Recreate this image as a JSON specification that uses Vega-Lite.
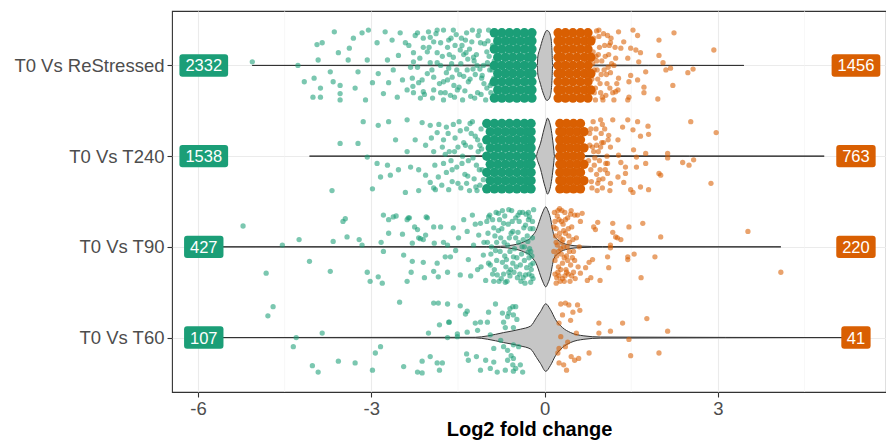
{
"$schema":"https://vega.github.io/schema/vega-lite/v6.json",
"width":714,"height":381,
"autosize":{"type":"none"},
"padding":{"left":172,"top":11,"right":0,"bottom":49},
"background":"white",
"config":{
"view":{"stroke":"#333333","strokeWidth":1.1},
"axis":{"labelFont":"Liberation Sans","titleFont":"Liberation Sans","labelFontSize":18.5,"labelColor":"#4D4D4D","tickColor":"#333333","tickSize":5,"tickWidth":1.1,"gridColor":"#EBEBEB","gridWidth":1.1,"domain":false,"labelPadding":3}
},
"datasets":{
"minor":[{"v":-4.5},{"v":-1.5},{"v":1.5},{"v":4.5}],
"vio":[
{"c":4,"x":-5.06,"lo":4,"hi":4},{"c":4,"x":-0.125,"lo":3.994,"hi":4.006},{"c":4,"x":-0.12,"lo":3.923,"hi":4.077},{"c":4,"x":-0.11,"lo":3.879,"hi":4.121},{"c":4,"x":-0.09,"lo":3.835,"hi":4.165},{"c":4,"x":-0.07,"lo":3.791,"hi":4.209},{"c":4,"x":-0.04,"lo":3.724,"hi":4.276},{"c":4,"x":-0.01,"lo":3.669,"hi":4.331},{"c":4,"x":0.02,"lo":3.625,"hi":4.375},{"c":4,"x":0.04,"lo":3.614,"hi":4.386},{"c":4,"x":0.07,"lo":3.625,"hi":4.375},{"c":4,"x":0.1,"lo":3.669,"hi":4.331},{"c":4,"x":0.12,"lo":3.757,"hi":4.243},{"c":4,"x":0.13,"lo":3.868,"hi":4.132},{"c":4,"x":0.135,"lo":3.956,"hi":4.044},{"c":4,"x":0.14,"lo":3.994,"hi":4.006},{"c":4,"x":3.45,"lo":4,"hi":4},
{"c":3,"x":-4.07,"lo":3,"hi":3},{"c":3,"x":-0.14,"lo":2.994,"hi":3.006},{"c":3,"x":-0.13,"lo":2.967,"hi":3.033},{"c":3,"x":-0.1,"lo":2.912,"hi":3.088},{"c":3,"x":-0.07,"lo":2.857,"hi":3.143},{"c":3,"x":-0.04,"lo":2.78,"hi":3.22},{"c":3,"x":-0.01,"lo":2.702,"hi":3.298},{"c":3,"x":0.02,"lo":2.636,"hi":3.364},{"c":3,"x":0.05,"lo":2.581,"hi":3.419},{"c":3,"x":0.08,"lo":2.614,"hi":3.386},{"c":3,"x":0.11,"lo":2.691,"hi":3.309},{"c":3,"x":0.14,"lo":2.824,"hi":3.176},{"c":3,"x":0.16,"lo":2.934,"hi":3.066},{"c":3,"x":0.17,"lo":2.994,"hi":3.006},{"c":3,"x":4.84,"lo":3,"hi":3},
{"c":2,"x":-5.9,"lo":2,"hi":2},{"c":2,"x":-1.0,"lo":1.997,"hi":2.003},{"c":2,"x":-0.76,"lo":1.994,"hi":2.006},{"c":2,"x":-0.53,"lo":1.978,"hi":2.022},{"c":2,"x":-0.36,"lo":1.945,"hi":2.055},{"c":2,"x":-0.24,"lo":1.901,"hi":2.099},{"c":2,"x":-0.2,"lo":1.868,"hi":2.132},{"c":2,"x":-0.16,"lo":1.835,"hi":2.165},{"c":2,"x":-0.11,"lo":1.757,"hi":2.243},{"c":2,"x":-0.07,"lo":1.68,"hi":2.32},{"c":2,"x":-0.03,"lo":1.614,"hi":2.386},{"c":2,"x":0.02,"lo":1.559,"hi":2.441},{"c":2,"x":0.06,"lo":1.603,"hi":2.397},{"c":2,"x":0.1,"lo":1.68,"hi":2.32},{"c":2,"x":0.13,"lo":1.78,"hi":2.22},{"c":2,"x":0.16,"lo":1.868,"hi":2.132},{"c":2,"x":0.25,"lo":1.934,"hi":2.066},{"c":2,"x":0.4,"lo":1.975,"hi":2.025},{"c":2,"x":0.62,"lo":1.992,"hi":2.008},{"c":2,"x":1.0,"lo":1.997,"hi":2.003},{"c":2,"x":4.09,"lo":2,"hi":2},
{"c":1,"x":-5.9,"lo":1,"hi":1},{"c":1,"x":-1.2,"lo":0.997,"hi":1.003},{"c":1,"x":-0.99,"lo":0.982,"hi":1.018},{"c":1,"x":-0.71,"lo":0.945,"hi":1.055},{"c":1,"x":-0.42,"lo":0.908,"hi":1.092},{"c":1,"x":-0.24,"lo":0.872,"hi":1.128},{"c":1,"x":-0.14,"lo":0.78,"hi":1.22},{"c":1,"x":-0.07,"lo":0.713,"hi":1.287},{"c":1,"x":0.02,"lo":0.628,"hi":1.372},{"c":1,"x":0.1,"lo":0.691,"hi":1.309},{"c":1,"x":0.19,"lo":0.802,"hi":1.198},{"c":1,"x":0.31,"lo":0.89,"hi":1.11},{"c":1,"x":0.45,"lo":0.945,"hi":1.055},{"c":1,"x":0.68,"lo":0.981,"hi":1.019},{"c":1,"x":0.97,"lo":0.994,"hi":1.006},{"c":1,"x":5.3,"lo":1,"hi":1}
],
"pts":[
{"x":-5.06,"y":4.04},{"x":-4.27,"y":4.0},{"x":-3.64,"y":4.37},{"x":-3.94,"y":4.23},{"x":-3.85,"y":4.25},{"x":-3.92,"y":4.06},{"x":-4.16,"y":3.82},{"x":-3.99,"y":3.86},{"x":-3.88,"y":3.75},{"x":-4.01,"y":3.65},{"x":-3.88,"y":3.65},{"x":-3.71,"y":3.93},{"x":-3.66,"y":3.82},{"x":-3.57,"y":4.14},{"x":-3.54,"y":3.78},{"x":-3.54,"y":3.69},{"x":-3.54,"y":3.62},{"x":-3.38,"y":4.19},{"x":-3.4,"y":4.06},{"x":-3.31,"y":4.3},{"x":-3.28,"y":3.75},{"x":-3.23,"y":3.93},{"x":-3.16,"y":4.36},{"x":-3.1,"y":3.62},{"x":-3.07,"y":4.06},{"x":-3.05,"y":4.39},{"x":-2.98,"y":3.81},{"x":-2.9,"y":4.25},{"x":-2.88,"y":3.91},{"x":-2.79,"y":3.69},{"x":-2.76,"y":4.37},{"x":-2.72,"y":4.06},{"x":-2.7,"y":3.81},{"x":-2.64,"y":4.28},{"x":-2.62,"y":3.95},{"x":-2.55,"y":3.65},{"x":-2.53,"y":4.11},{"x":-2.5,"y":4.36},{"x":-2.46,"y":3.84},{"x":-2.41,"y":4.25},{"x":-2.38,"y":3.73},{"x":-2.32,"y":3.98},{"x":-2.27,"y":4.14},{"x":-2.2,"y":4.36},{"x":-2.18,"y":3.81},{"x":-2.15,"y":3.64},{"x":-2.1,"y":4.2},{"x":-2.03,"y":3.91},{"x":-1.98,"y":4.31},{"x":-1.92,"y":3.73},{"x":-1.86,"y":4.03},{"x":-1.8,"y":4.25},{"x":-1.75,"y":3.62},{"x":-1.68,"y":3.84},
{"x":-2.24,"y":4.33},{"x":-2.1,"y":4.3},{"x":-2.01,"y":4.37},{"x":-1.86,"y":4.39},{"x":-1.75,"y":4.39},{"x":-1.58,"y":4.39},{"x":-1.92,"y":4.26},{"x":-2.27,"y":4.04},{"x":-2.03,"y":4.15},{"x":-1.86,"y":4.14},{"x":-1.68,"y":4.2},{"x":-1.58,"y":4.09},{"x":-2.2,"y":3.98},{"x":-1.98,"y":4.03},{"x":-1.8,"y":4.0},{"x":-1.66,"y":3.97},{"x":-2.29,"y":3.86},{"x":-2.12,"y":3.84},{"x":-1.92,"y":3.87},{"x":-1.75,"y":3.82},{"x":-1.6,"y":3.87},{"x":-2.27,"y":3.7},{"x":-2.1,"y":3.71},{"x":-1.94,"y":3.64},{"x":-1.8,"y":3.7},{"x":-1.63,"y":3.67},{"x":-1.51,"y":3.73},{"x":-1.46,"y":4.17},{"x":-1.37,"y":4.28},{"x":-1.34,"y":3.95},{"x":-1.32,"y":3.82},{"x":-1.42,"y":3.62},{"x":-1.25,"y":4.39},{"x":-1.23,"y":4.09},{"x":-1.16,"y":3.7},{"x":-1.11,"y":4.25},{"x":-1.08,"y":3.89},{"x":-1.02,"y":3.62},{"x":-0.99,"y":4.03},{"x":-0.97,"y":4.39},{"x":-0.94,"y":3.78},
{"x":-1.45,"y":4.02},{"x":-1.3,"y":4.18},{"x":-1.2,"y":3.9},{"x":-1.15,"y":4.33},{"x":-1.05,"y":3.8},{"x":-1.0,"y":4.15},{"x":-0.95,"y":3.95},{"x":-1.28,"y":3.66},{"x":-1.4,"y":3.88},{"x":-1.55,"y":4.22},{"x":-1.22,"y":4.05},{"x":-1.1,"y":3.68},{"x":-0.98,"y":4.27},{"x":-1.35,"y":4.36},{"x":-1.48,"y":3.76},{"x":-1.18,"y":4.12},{"x":-1.06,"y":4.0},{"x":-0.93,"y":3.7},{"x":-1.12,"y":3.96},{"x":-1.4,"y":4.12},{"x":-0.9,"y":4.22},{"x":-0.88,"y":3.86},{"x":-0.86,"y":4.35},{"x":-0.9,"y":3.64},{"x":-0.87,"y":4.05},{"x":-0.91,"y":3.95},{"x":-1.62,"y":4.3},{"x":-1.7,"y":3.92},{"x":-1.52,"y":3.95},{"x":-1.65,"y":4.12},{"x":-1.56,"y":3.65},{"x":-1.44,"y":4.3},
{"x":-2.35,"y":4.22},{"x":-2.28,"y":3.77},{"x":-2.16,"y":4.08},{"x":-2.08,"y":3.68},{"x":-2.0,"y":4.2},{"x":-1.95,"y":3.95},{"x":-1.88,"y":4.35},{"x":-1.82,"y":3.8},{"x":-1.77,"y":4.1},{"x":-1.72,"y":3.7},{"x":-1.66,"y":4.28},{"x":-1.61,"y":4.02},{"x":-1.57,"y":3.78},{"x":-1.53,"y":4.34},{"x":-1.47,"y":3.9},{"x":-1.43,"y":4.22},{"x":-1.38,"y":3.72},{"x":-1.33,"y":4.07},{"x":-1.29,"y":3.85},{"x":-1.26,"y":4.26},{"x":-1.21,"y":3.64},{"x":-1.17,"y":4.0},{"x":-1.13,"y":4.38},{"x":-1.09,"y":3.86},{"x":-1.04,"y":4.24},{"x":-1.0,"y":3.75},{"x":-0.96,"y":4.1},{"x":-0.92,"y":3.8},{"x":-1.24,"y":3.96},{"x":-1.36,"y":4.14},
{"x":0.94,"y":4.39},{"x":1.09,"y":4.33},{"x":1.28,"y":4.37},{"x":1.53,"y":4.39},{"x":1.61,"y":4.33},{"x":2.24,"y":4.36},{"x":1.98,"y":4.28},{"x":2.93,"y":4.17},{"x":1.14,"y":4.25},{"x":1.37,"y":4.26},{"x":1.49,"y":4.19},{"x":1.32,"y":4.19},{"x":1.58,"y":4.17},{"x":1.66,"y":4.14},{"x":1.98,"y":4.11},{"x":1.23,"y":4.08},{"x":1.44,"y":4.08},{"x":1.63,"y":4.04},{"x":2.05,"y":4.03},{"x":2.1,"y":3.95},{"x":2.18,"y":3.97},{"x":2.57,"y":3.96},{"x":2.48,"y":3.92},{"x":1.75,"y":3.93},{"x":1.49,"y":3.89},{"x":1.14,"y":3.92},{"x":1.28,"y":3.86},{"x":1.46,"y":3.82},{"x":1.61,"y":3.84},{"x":2.22,"y":3.78},{"x":1.72,"y":3.76},{"x":1.23,"y":3.71},{"x":1.27,"y":3.73},{"x":1.72,"y":3.7},{"x":1.96,"y":3.63},{"x":1.46,"y":3.65},{"x":1.44,"y":3.62},{"x":1.2,"y":3.62},{"x":1.06,"y":3.67},
{"x":0.85,"y":4.3},{"x":0.9,"y":4.05},{"x":0.88,"y":3.75},{"x":0.95,"y":4.2},{"x":0.98,"y":3.9},{"x":1.02,"y":4.35},{"x":1.05,"y":4.1},{"x":1.0,"y":3.65},{"x":0.92,"y":3.85},{"x":1.1,"y":3.98},{"x":1.12,"y":4.22},{"x":0.86,"y":3.95},{"x":0.9,"y":4.38},{"x":0.97,"y":3.7},{"x":1.08,"y":3.8},{"x":0.84,"y":4.15},{"x":1.15,"y":4.3},{"x":1.18,"y":3.7},{"x":0.93,"y":4.12},{"x":1.03,"y":3.95},{"x":0.88,"y":3.62},{"x":0.82,"y":3.85},{"x":0.83,"y":4.02},{"x":1.2,"y":4.0},
{"x":0.82,"y":4.25},{"x":0.86,"y":3.7},{"x":0.89,"y":4.1},{"x":0.91,"y":3.95},{"x":0.94,"y":4.32},{"x":0.96,"y":3.8},{"x":0.99,"y":4.05},{"x":1.01,"y":3.62},{"x":1.04,"y":4.22},{"x":1.07,"y":3.9},{"x":1.11,"y":4.12},{"x":1.13,"y":3.75},{"x":1.16,"y":4.02},{"x":1.22,"y":4.2},{"x":1.25,"y":3.8},
{"x":-3.14,"y":3.38},{"x":-2.88,"y":3.34},{"x":-2.7,"y":3.38},{"x":-2.38,"y":3.4},{"x":-2.12,"y":3.37},{"x":-1.98,"y":3.34},{"x":-3.54,"y":3.14},{"x":-3.23,"y":3.14},{"x":-3.07,"y":2.99},{"x":-2.9,"y":2.92},{"x":-2.72,"y":2.9},{"x":-2.84,"y":2.77},{"x":-2.67,"y":2.79},{"x":-2.53,"y":2.85},{"x":-2.58,"y":3.18},{"x":-2.24,"y":3.18},{"x":-2.06,"y":3.12},{"x":-2.38,"y":3.05},{"x":-2.32,"y":2.88},{"x":-2.18,"y":2.85},{"x":-2.06,"y":2.79},{"x":-1.98,"y":2.71},{"x":-1.92,"y":2.65},{"x":-1.89,"y":2.63},{"x":-3.68,"y":2.62},{"x":-2.98,"y":2.64},{"x":-2.41,"y":2.6},{"x":-2.18,"y":2.62},{"x":-1.86,"y":3.26},{"x":-1.92,"y":3.05},{"x":-1.77,"y":3.1},{"x":-1.75,"y":2.92},{"x":-1.84,"y":2.77},
{"x":-1.7,"y":3.32},{"x":-1.65,"y":3.05},{"x":-1.6,"y":2.72},{"x":-1.55,"y":3.2},{"x":-1.52,"y":2.88},{"x":-1.48,"y":3.38},{"x":-1.45,"y":2.65},{"x":-1.42,"y":3.0},{"x":-1.4,"y":3.15},{"x":-1.38,"y":2.8},{"x":-1.35,"y":3.3},{"x":-1.32,"y":2.95},{"x":-1.3,"y":2.62},{"x":-1.28,"y":3.1},{"x":-1.25,"y":3.38},{"x":-1.22,"y":2.75},{"x":-1.2,"y":3.22},{"x":-1.18,"y":2.9},{"x":-1.15,"y":3.05},{"x":-1.12,"y":2.68},{"x":-1.1,"y":3.3},{"x":-1.08,"y":2.85},{"x":-1.62,"y":2.95},{"x":-1.58,"y":3.35},{"x":-1.35,"y":2.7},{"x":-1.27,"y":3.25},{"x":-1.17,"y":2.62},{"x":-1.12,"y":3.12},{"x":-1.5,"y":3.1},{"x":-1.7,"y":2.82},{"x":-1.75,"y":3.18},{"x":-1.66,"y":2.63},
{"x":-1.96,"y":3.2},{"x":-1.9,"y":2.9},{"x":-1.83,"y":3.35},{"x":-1.78,"y":2.68},{"x":-1.72,"y":3.02},{"x":-1.67,"y":3.25},{"x":-1.6,"y":2.85},{"x":-1.56,"y":3.05},{"x":-1.5,"y":2.7},{"x":-1.46,"y":3.28},{"x":-1.43,"y":2.92},{"x":-1.37,"y":3.12},{"x":-1.33,"y":2.78},{"x":-1.29,"y":3.36},{"x":-1.24,"y":2.98},{"x":-1.19,"y":2.66},{"x":-1.16,"y":3.18},{"x":-1.13,"y":2.85},{"x":-1.09,"y":3.08},{"x":-1.06,"y":2.74},
{"x":0.97,"y":3.4},{"x":1.18,"y":3.4},{"x":1.44,"y":3.4},{"x":1.35,"y":3.32},{"x":1.61,"y":3.38},{"x":1.79,"y":3.33},{"x":1.8,"y":3.24},{"x":1.66,"y":3.22},{"x":1.53,"y":3.29},{"x":1.27,"y":3.18},{"x":1.11,"y":3.23},{"x":0.97,"y":3.1},{"x":1.14,"y":3.1},{"x":1.28,"y":3.01},{"x":1.54,"y":3.07},{"x":1.59,"y":2.99},{"x":1.75,"y":3.03},{"x":1.75,"y":2.92},{"x":2.13,"y":3.03},{"x":2.13,"y":2.98},{"x":2.39,"y":2.93},{"x":2.5,"y":2.9},{"x":2.58,"y":2.96},{"x":2.53,"y":3.38},{"x":2.97,"y":3.26},{"x":1.09,"y":2.92},{"x":1.32,"y":2.93},{"x":1.4,"y":2.88},{"x":1.59,"y":2.88},{"x":1.09,"y":2.81},{"x":1.27,"y":2.77},{"x":1.4,"y":2.81},{"x":1.14,"y":2.7},{"x":1.37,"y":2.71},{"x":1.49,"y":2.63},{"x":1.66,"y":2.66},{"x":1.8,"y":2.63},{"x":1.98,"y":2.81},{"x":2.01,"y":2.79},{"x":2.88,"y":2.7},{"x":0.94,"y":2.74},{"x":1.53,"y":2.6},
{"x":0.8,"y":3.3},{"x":0.85,"y":3.05},{"x":0.9,"y":2.8},{"x":0.82,"y":2.65},{"x":0.88,"y":3.2},{"x":0.95,"y":2.95},{"x":1.0,"y":3.35},{"x":0.78,"y":3.12},{"x":0.92,"y":2.7},{"x":1.02,"y":3.15},{"x":0.86,"y":2.9},{"x":1.05,"y":2.85},{"x":0.98,"y":3.25},{"x":0.84,"y":3.38},{"x":1.08,"y":3.0},{"x":0.9,"y":3.12},{"x":0.8,"y":2.85},{"x":1.0,"y":2.65},
{"x":0.76,"y":2.95},{"x":0.78,"y":3.25},{"x":0.81,"y":2.72},{"x":0.83,"y":3.1},{"x":0.87,"y":2.98},{"x":0.89,"y":3.3},{"x":0.91,"y":2.62},{"x":0.93,"y":3.05},{"x":0.96,"y":2.85},{"x":0.99,"y":3.15},{"x":1.01,"y":2.75},{"x":1.04,"y":3.3},{"x":1.06,"y":2.92},{"x":1.1,"y":3.18},{"x":1.13,"y":2.62},
{"x":-5.22,"y":2.23},{"x":-4.54,"y":2.02},{"x":-4.82,"y":1.71},{"x":-4.25,"y":2.08},{"x":-4.07,"y":1.84},{"x":-3.71,"y":1.73},{"x":-3.66,"y":2.06},{"x":-3.49,"y":2.28},{"x":-3.45,"y":2.31},{"x":-3.42,"y":2.11},{"x":-3.21,"y":2.08},{"x":-3.16,"y":2.02},{"x":-3.07,"y":1.72},{"x":-3.02,"y":1.62},{"x":-2.88,"y":1.67},{"x":-2.81,"y":1.6},{"x":-2.83,"y":2.05},{"x":-2.79,"y":1.95},{"x":-2.79,"y":2.35},{"x":-2.7,"y":2.3},{"x":-2.7,"y":2.15},{"x":-2.57,"y":2.34},{"x":-2.46,"y":2.14},{"x":-2.44,"y":1.91},{"x":-2.38,"y":2.3},{"x":-2.34,"y":2.32},{"x":-2.29,"y":2.04},{"x":-2.29,"y":1.84},{"x":-2.31,"y":1.72},{"x":-2.38,"y":1.62},{"x":-2.25,"y":2.22},{"x":-2.2,"y":2.19},{"x":-2.18,"y":2.1},{"x":-2.1,"y":2.08},{"x":-2.1,"y":1.83},{"x":-2.08,"y":1.66},{"x":-2.05,"y":2.33},{"x":-2.06,"y":2.13},{"x":-1.92,"y":2.22},{"x":-1.91,"y":2.04},{"x":-1.92,"y":1.73},{"x":-1.86,"y":1.82},{"x":-1.84,"y":1.67},{"x":-1.8,"y":2.22},{"x":-1.75,"y":2.05},{"x":-1.72,"y":1.89},{"x":-2.62,"y":2.33},{"x":-2.36,"y":2.32},{"x":-2.03,"y":2.32},{"x":-2.15,"y":2.09},{"x":-1.68,"y":2.02},{"x":-1.68,"y":1.72},
{"x":-1.63,"y":1.89},{"x":-1.58,"y":2.21},{"x":-1.54,"y":1.96},{"x":-1.49,"y":2.1},{"x":-1.46,"y":1.69},{"x":-1.4,"y":2.3},{"x":-1.34,"y":2.17},{"x":-1.32,"y":1.86},{"x":-1.25,"y":2.35},{"x":-1.23,"y":2.02},{"x":-1.16,"y":1.75},{"x":-1.14,"y":2.13},{"x":-1.11,"y":2.26},{"x":-1.06,"y":1.91},{"x":-1.02,"y":1.63},{"x":-0.99,"y":2.05},{"x":-0.97,"y":2.33},{"x":-0.94,"y":1.8},{"x":-0.88,"y":2.21},{"x":-0.85,"y":1.96},{"x":-0.82,"y":1.69},{"x":-0.8,"y":2.37},{"x":-0.76,"y":2.1},{"x":-0.73,"y":1.83},{"x":-0.71,"y":2.26},{"x":-0.68,"y":1.61},{"x":-0.64,"y":2.02},{"x":-0.62,"y":2.41},{"x":-0.59,"y":1.75},{"x":-0.55,"y":2.17},{"x":-0.54,"y":1.89},{"x":-0.5,"y":2.32},{"x":-0.47,"y":1.66},{"x":-0.45,"y":2.05},{"x":-0.42,"y":1.8},{"x":-0.38,"y":2.38},{"x":-0.36,"y":2.21},{"x":-0.33,"y":1.69},{"x":-0.29,"y":1.94},{"x":-0.28,"y":2.3},{"x":-0.24,"y":1.61},{"x":-0.21,"y":2.1},{"x":-0.19,"y":2.41},{"x":-0.24,"y":1.8},
{"x":-0.95,"y":2.35},{"x":-0.9,"y":1.7},{"x":-0.86,"y":2.12},{"x":-0.83,"y":1.85},{"x":-0.78,"y":2.3},{"x":-0.75,"y":1.65},{"x":-0.7,"y":2.05},{"x":-0.67,"y":1.78},{"x":-0.63,"y":2.25},{"x":-0.6,"y":1.95},{"x":-0.57,"y":2.4},{"x":-0.53,"y":1.72},{"x":-0.5,"y":2.1},{"x":-0.48,"y":1.88},{"x":-0.44,"y":2.28},{"x":-0.41,"y":1.62},{"x":-0.39,"y":2.0},{"x":-0.35,"y":1.85},{"x":-0.32,"y":2.36},{"x":-0.3,"y":2.12},{"x":-0.27,"y":1.7},{"x":-0.25,"y":2.2},{"x":-0.22,"y":1.9},{"x":-0.2,"y":1.65},{"x":-0.92,"y":2.0},{"x":-0.88,"y":1.62},{"x":-0.8,"y":2.18},{"x":-0.73,"y":2.4},{"x":-0.69,"y":1.9},{"x":-0.65,"y":1.62},{"x":-0.58,"y":2.15},{"x":-0.55,"y":1.82},{"x":-0.46,"y":2.35},{"x":-0.43,"y":1.7},{"x":-0.37,"y":2.08},{"x":-0.34,"y":1.6},{"x":-0.28,"y":2.38},{"x":-0.26,"y":1.98},{"x":-0.21,"y":2.28},{"x":-0.23,"y":1.75},{"x":-1.05,"y":2.05},{"x":-1.1,"y":1.78},{"x":-1.2,"y":2.25},{"x":-1.28,"y":1.68},{"x":-1.0,"y":2.28},{"x":-0.97,"y":1.82},{"x":-0.84,"y":2.38},{"x":-0.62,"y":1.72},
{"x":-0.98,"y":2.15},{"x":-0.93,"y":1.92},{"x":-0.9,"y":2.3},{"x":-0.87,"y":1.75},{"x":-0.83,"y":2.05},{"x":-0.79,"y":1.62},{"x":-0.77,"y":1.95},{"x":-0.74,"y":2.2},{"x":-0.71,"y":1.7},{"x":-0.69,"y":2.34},{"x":-0.66,"y":1.86},{"x":-0.61,"y":2.1},{"x":-0.6,"y":1.68},{"x":-0.56,"y":2.28},{"x":-0.52,"y":1.98},{"x":-0.49,"y":1.78},{"x":-0.46,"y":2.16},{"x":-0.43,"y":2.38},{"x":-0.4,"y":1.92},{"x":-0.37,"y":1.66},{"x":-0.33,"y":2.24},{"x":-0.31,"y":1.77},{"x":-0.29,"y":2.06},{"x":-0.26,"y":2.33},{"x":-0.24,"y":1.95},{"x":-0.22,"y":1.68},{"x":-0.2,"y":2.2},{"x":-0.2,"y":1.82},{"x":-0.27,"y":1.88},{"x":-0.35,"y":2.0},
{"x":0.92,"y":2.27},{"x":0.85,"y":2.22},{"x":0.88,"y":2.19},{"x":1.18,"y":2.26},{"x":1.18,"y":2.16},{"x":1.46,"y":2.22},{"x":1.7,"y":2.26},{"x":2.01,"y":2.11},{"x":1.26,"y":2.1},{"x":1.32,"y":2.08},{"x":1.23,"y":2.11},{"x":1.14,"y":2.02},{"x":1.14,"y":1.99},{"x":1.09,"y":1.89},{"x":1.44,"y":1.89},{"x":1.44,"y":1.86},{"x":1.55,"y":1.92},{"x":1.91,"y":1.89},{"x":0.77,"y":1.83},{"x":0.83,"y":1.86},{"x":0.71,"y":1.77},{"x":1.11,"y":1.77},{"x":1.67,"y":1.66},{"x":0.96,"y":1.63},{"x":0.8,"y":1.66},{"x":0.74,"y":1.63},{"x":3.52,"y":2.17},{"x":4.09,"y":1.72},{"x":0.62,"y":1.71},{"x":0.65,"y":2.37},{"x":0.57,"y":2.35},
{"x":0.17,"y":2.38},{"x":0.2,"y":2.2},{"x":0.22,"y":2.02},{"x":0.18,"y":1.85},{"x":0.21,"y":1.66},{"x":0.25,"y":2.3},{"x":0.27,"y":2.1},{"x":0.24,"y":1.95},{"x":0.28,"y":1.75},{"x":0.3,"y":2.4},{"x":0.32,"y":2.25},{"x":0.33,"y":2.0},{"x":0.31,"y":1.82},{"x":0.34,"y":1.62},{"x":0.36,"y":2.15},{"x":0.38,"y":1.9},{"x":0.4,"y":2.32},{"x":0.41,"y":1.7},{"x":0.43,"y":2.05},{"x":0.45,"y":1.8},{"x":0.47,"y":2.22},{"x":0.5,"y":1.95},{"x":0.52,"y":2.35},{"x":0.53,"y":1.65},{"x":0.19,"y":2.12},{"x":0.23,"y":1.72},{"x":0.26,"y":2.42},{"x":0.29,"y":1.92},{"x":0.35,"y":2.38},{"x":0.37,"y":1.75},{"x":0.42,"y":2.12},{"x":0.44,"y":1.62},{"x":0.48,"y":1.88},{"x":0.55,"y":2.1},{"x":0.2,"y":1.6},{"x":0.3,"y":2.05},{"x":0.27,"y":1.62},{"x":0.39,"y":2.0},{"x":0.46,"y":2.4},{"x":0.5,"y":1.72},{"x":0.18,"y":2.28},{"x":0.24,"y":1.78},{"x":0.33,"y":2.18},{"x":0.4,"y":1.85},{"x":0.6,"y":2.0},{"x":0.58,"y":1.78},{"x":0.62,"y":2.28},{"x":0.16,"y":1.95},{"x":0.22,"y":2.34},{"x":0.35,"y":1.68},
{"x":0.16,"y":2.22},{"x":0.18,"y":1.7},{"x":0.2,"y":2.05},{"x":0.21,"y":1.9},{"x":0.23,"y":2.4},{"x":0.25,"y":1.68},{"x":0.26,"y":2.15},{"x":0.28,"y":1.98},{"x":0.29,"y":2.28},{"x":0.31,"y":1.65},{"x":0.32,"y":2.08},{"x":0.34,"y":1.88},{"x":0.36,"y":2.3},{"x":0.38,"y":1.72},{"x":0.41,"y":2.2},{"x":0.43,"y":1.95},{"x":0.45,"y":2.36},{"x":0.47,"y":1.68},{"x":0.49,"y":2.08},{"x":0.52,"y":1.85},
{"x":-4.79,"y":1.24},{"x":-4.7,"y":1.34},{"x":-4.3,"y":1.0},{"x":-4.35,"y":0.9},{"x":-3.85,"y":1.05},{"x":-4.02,"y":0.69},{"x":-3.92,"y":0.62},{"x":-3.57,"y":0.74},{"x":-3.28,"y":0.72},{"x":-2.98,"y":0.64},{"x":-2.93,"y":0.83},{"x":-2.84,"y":0.9},{"x":-2.51,"y":1.39},{"x":-1.92,"y":1.38},{"x":-1.84,"y":1.38},{"x":-2.44,"y":0.68},{"x":-2.2,"y":0.62},{"x":-2.12,"y":0.61},{"x":-2.12,"y":0.74},{"x":-1.98,"y":0.79},{"x":-1.86,"y":0.72},{"x":-1.77,"y":0.72},{"x":-1.82,"y":0.64},{"x":-2.01,"y":1.05},{"x":-1.82,"y":1.14},{"x":-1.66,"y":1.17},{"x":-1.68,"y":1.0},{"x":-1.68,"y":1.37},{"x":-1.46,"y":1.35},{"x":-1.34,"y":1.29},{"x":-1.37,"y":1.26},{"x":-0.97,"y":1.28},{"x":-0.85,"y":1.37},{"x":-0.55,"y":1.34},{"x":-0.5,"y":1.34},{"x":-0.73,"y":1.27},{"x":-0.64,"y":1.23},{"x":-0.54,"y":1.25},{"x":-1.2,"y":1.16},{"x":-1.11,"y":1.17},{"x":-0.99,"y":1.17},{"x":-0.71,"y":1.17},{"x":-0.68,"y":1.11},{"x":-0.54,"y":1.11},{"x":-1.65,"y":1.17},{"x":-1.34,"y":1.06},{"x":-1.16,"y":1.08},{"x":-1.51,"y":1.04},{"x":-1.51,"y":1.01},{"x":-0.94,"y":1.03},{"x":-0.76,"y":0.97},{"x":-0.71,"y":0.9},{"x":-0.88,"y":0.88},{"x":-0.64,"y":0.86},{"x":-0.54,"y":0.92},{"x":-0.45,"y":0.9},{"x":-1.35,"y":0.82},{"x":-1.32,"y":0.75},{"x":-1.18,"y":0.79},{"x":-1.02,"y":0.75},{"x":-0.88,"y":0.73},{"x":-0.64,"y":0.75},{"x":-0.54,"y":0.77},{"x":-0.55,"y":0.7},{"x":-0.42,"y":0.7},{"x":-1.11,"y":0.64},{"x":-0.94,"y":0.66},{"x":-0.82,"y":0.62},{"x":-0.68,"y":0.64},{"x":-0.54,"y":0.63},{"x":-0.38,"y":0.62},{"x":-0.62,"y":1.27},{"x":-0.5,"y":0.66},{"x":-0.6,"y":1.32},{"x":-0.48,"y":1.2},{"x":-0.58,"y":0.8},
{"x":0.28,"y":1.37},{"x":0.36,"y":1.38},{"x":0.42,"y":1.36},{"x":0.57,"y":1.36},{"x":0.61,"y":1.3},{"x":0.49,"y":1.28},{"x":0.31,"y":1.25},{"x":0.25,"y":1.16},{"x":0.45,"y":1.19},{"x":0.94,"y":1.16},{"x":1.35,"y":1.16},{"x":1.77,"y":1.21},{"x":1.14,"y":1.07},{"x":0.94,"y":1.05},{"x":2.13,"y":1.07},{"x":1.46,"y":0.98},{"x":0.55,"y":1.05},{"x":0.28,"y":1.01},{"x":0.4,"y":0.95},{"x":0.25,"y":0.88},{"x":0.36,"y":0.9},{"x":0.77,"y":0.83},{"x":0.46,"y":0.79},{"x":0.52,"y":0.75},{"x":0.59,"y":0.77},{"x":0.25,"y":0.72},{"x":0.33,"y":0.7},{"x":0.38,"y":0.64},{"x":1.49,"y":0.8},{"x":1.98,"y":0.83},{"x":0.23,"y":0.83}
],
"core":[
{"x":-0.87,"y":3.64},{"x":-0.74,"y":3.64},{"x":-0.61,"y":3.64},{"x":-0.48,"y":3.64},{"x":-0.35,"y":3.64},{"x":-0.22,"y":3.64},
{"x":-0.81,"y":3.73},{"x":-0.68,"y":3.73},{"x":-0.55,"y":3.73},{"x":-0.42,"y":3.73},{"x":-0.29,"y":3.73},{"x":-0.22,"y":3.73},
{"x":-0.87,"y":3.82},{"x":-0.74,"y":3.82},{"x":-0.61,"y":3.82},{"x":-0.48,"y":3.82},{"x":-0.35,"y":3.82},{"x":-0.22,"y":3.82},
{"x":-0.81,"y":3.91},{"x":-0.68,"y":3.91},{"x":-0.55,"y":3.91},{"x":-0.42,"y":3.91},{"x":-0.29,"y":3.91},{"x":-0.22,"y":3.91},
{"x":-0.87,"y":4.0},{"x":-0.74,"y":4.0},{"x":-0.61,"y":4.0},{"x":-0.48,"y":4.0},{"x":-0.35,"y":4.0},{"x":-0.22,"y":4.0},
{"x":-0.81,"y":4.09},{"x":-0.68,"y":4.09},{"x":-0.55,"y":4.09},{"x":-0.42,"y":4.09},{"x":-0.29,"y":4.09},{"x":-0.22,"y":4.09},
{"x":-0.87,"y":4.18},{"x":-0.74,"y":4.18},{"x":-0.61,"y":4.18},{"x":-0.48,"y":4.18},{"x":-0.35,"y":4.18},{"x":-0.22,"y":4.18},
{"x":-0.81,"y":4.27},{"x":-0.68,"y":4.27},{"x":-0.55,"y":4.27},{"x":-0.42,"y":4.27},{"x":-0.29,"y":4.27},{"x":-0.22,"y":4.27},
{"x":-0.87,"y":4.36},{"x":-0.74,"y":4.36},{"x":-0.61,"y":4.36},{"x":-0.48,"y":4.36},{"x":-0.35,"y":4.36},{"x":-0.22,"y":4.36},
{"x":0.235,"y":3.64},{"x":0.36,"y":3.64},{"x":0.49,"y":3.64},{"x":0.62,"y":3.64},{"x":0.75,"y":3.64},
{"x":0.235,"y":3.73},{"x":0.3,"y":3.73},{"x":0.43,"y":3.73},{"x":0.56,"y":3.73},{"x":0.69,"y":3.73},{"x":0.8,"y":3.73},
{"x":0.235,"y":3.82},{"x":0.36,"y":3.82},{"x":0.49,"y":3.82},{"x":0.62,"y":3.82},{"x":0.75,"y":3.82},
{"x":0.235,"y":3.91},{"x":0.3,"y":3.91},{"x":0.43,"y":3.91},{"x":0.56,"y":3.91},{"x":0.69,"y":3.91},{"x":0.8,"y":3.91},
{"x":0.235,"y":4.0},{"x":0.36,"y":4.0},{"x":0.49,"y":4.0},{"x":0.62,"y":4.0},{"x":0.75,"y":4.0},
{"x":0.235,"y":4.09},{"x":0.3,"y":4.09},{"x":0.43,"y":4.09},{"x":0.56,"y":4.09},{"x":0.69,"y":4.09},{"x":0.8,"y":4.09},
{"x":0.235,"y":4.18},{"x":0.36,"y":4.18},{"x":0.49,"y":4.18},{"x":0.62,"y":4.18},{"x":0.75,"y":4.18},
{"x":0.235,"y":4.27},{"x":0.3,"y":4.27},{"x":0.43,"y":4.27},{"x":0.56,"y":4.27},{"x":0.69,"y":4.27},{"x":0.8,"y":4.27},
{"x":0.235,"y":4.36},{"x":0.36,"y":4.36},{"x":0.49,"y":4.36},{"x":0.62,"y":4.36},{"x":0.75,"y":4.36},
{"x":-1.0,"y":2.64},{"x":-0.87,"y":2.64},{"x":-0.74,"y":2.64},{"x":-0.61,"y":2.64},{"x":-0.48,"y":2.64},{"x":-0.35,"y":2.64},{"x":-0.235,"y":2.64},
{"x":-0.94,"y":2.73},{"x":-0.81,"y":2.73},{"x":-0.68,"y":2.73},{"x":-0.55,"y":2.73},{"x":-0.42,"y":2.73},{"x":-0.3,"y":2.73},{"x":-0.235,"y":2.73},
{"x":-1.0,"y":2.82},{"x":-0.87,"y":2.82},{"x":-0.74,"y":2.82},{"x":-0.61,"y":2.82},{"x":-0.48,"y":2.82},{"x":-0.35,"y":2.82},{"x":-0.235,"y":2.82},
{"x":-0.94,"y":2.91},{"x":-0.81,"y":2.91},{"x":-0.68,"y":2.91},{"x":-0.55,"y":2.91},{"x":-0.42,"y":2.91},{"x":-0.3,"y":2.91},{"x":-0.235,"y":2.91},
{"x":-1.0,"y":3.0},{"x":-0.87,"y":3.0},{"x":-0.74,"y":3.0},{"x":-0.61,"y":3.0},{"x":-0.48,"y":3.0},{"x":-0.35,"y":3.0},{"x":-0.235,"y":3.0},
{"x":-0.94,"y":3.09},{"x":-0.81,"y":3.09},{"x":-0.68,"y":3.09},{"x":-0.55,"y":3.09},{"x":-0.42,"y":3.09},{"x":-0.3,"y":3.09},{"x":-0.235,"y":3.09},
{"x":-1.0,"y":3.18},{"x":-0.87,"y":3.18},{"x":-0.74,"y":3.18},{"x":-0.61,"y":3.18},{"x":-0.48,"y":3.18},{"x":-0.35,"y":3.18},{"x":-0.235,"y":3.18},
{"x":-0.94,"y":3.27},{"x":-0.81,"y":3.27},{"x":-0.68,"y":3.27},{"x":-0.55,"y":3.27},{"x":-0.42,"y":3.27},{"x":-0.3,"y":3.27},{"x":-0.235,"y":3.27},
{"x":-1.0,"y":3.36},{"x":-0.87,"y":3.36},{"x":-0.74,"y":3.36},{"x":-0.61,"y":3.36},{"x":-0.48,"y":3.36},{"x":-0.35,"y":3.36},{"x":-0.235,"y":3.36},
{"x":0.265,"y":2.64},{"x":0.38,"y":2.64},{"x":0.5,"y":2.64},{"x":0.62,"y":2.64},
{"x":0.265,"y":2.73},{"x":0.32,"y":2.73},{"x":0.44,"y":2.73},{"x":0.56,"y":2.73},{"x":0.68,"y":2.73},
{"x":0.265,"y":2.82},{"x":0.38,"y":2.82},{"x":0.5,"y":2.82},{"x":0.62,"y":2.82},
{"x":0.265,"y":2.91},{"x":0.32,"y":2.91},{"x":0.44,"y":2.91},{"x":0.56,"y":2.91},{"x":0.68,"y":2.91},
{"x":0.265,"y":3.0},{"x":0.38,"y":3.0},{"x":0.5,"y":3.0},{"x":0.62,"y":3.0},
{"x":0.265,"y":3.09},{"x":0.32,"y":3.09},{"x":0.44,"y":3.09},{"x":0.56,"y":3.09},{"x":0.68,"y":3.09},
{"x":0.265,"y":3.18},{"x":0.38,"y":3.18},{"x":0.5,"y":3.18},{"x":0.62,"y":3.18},
{"x":0.265,"y":3.27},{"x":0.32,"y":3.27},{"x":0.44,"y":3.27},{"x":0.56,"y":3.27},{"x":0.68,"y":3.27},
{"x":0.265,"y":3.36},{"x":0.38,"y":3.36},{"x":0.5,"y":3.36},{"x":0.62,"y":3.36}
],
"lab":[{"x":-5.9,"y":4,"t":"2332"},{"x":5.39,"y":4,"t":"1456"},{"x":-5.9,"y":3,"t":"1538"},{"x":5.39,"y":3,"t":"763"},{"x":-5.9,"y":2,"t":"427"},{"x":5.39,"y":2,"t":"220"},{"x":-5.9,"y":1,"t":"107"},{"x":5.39,"y":1,"t":"41"}]
},
"layer":[
{"data":{"name":"minor"},"mark":{"type":"rule","color":"#F2F2F2","strokeWidth":0.6},
 "encoding":{"x":{"field":"v","type":"quantitative","scale":{"domain":[-6.45,5.91],"nice":false,"zero":false}}}},
{"data":{"name":"vio"},"mark":{"type":"area","orient":"vertical","fill":"#C6C6C6","stroke":"#333333","strokeWidth":1,"interpolate":"monotone"},
 "encoding":{
  "x":{"field":"x","type":"quantitative","scale":{"domain":[-6.45,5.91],"nice":false,"zero":false},"axis":{"values":[-6,-3,0,3],"labelExpr":"datum.value+''","labelPadding":2,"grid":true,"title":"Log2 fold change","titleFontSize":20,"titleFontWeight":"bold","titleColor":"#000000","titlePadding":2}},
  "y":{"field":"lo","type":"quantitative","scale":{"domain":[0.4,4.6],"nice":false,"zero":false},"axis":{"values":[1,2,3,4],"grid":true,"title":null,"labelExpr":"datum.value==4?'T0 Vs ReStressed':datum.value==3?'T0 Vs T240':datum.value==2?'T0 Vs T90':'T0 Vs T60'"}},
  "y2":{"field":"hi"},
  "detail":{"field":"c","type":"nominal"}}},
{"data":{"name":"pts"},"mark":{"type":"circle","size":28,"opacity":0.58},
 "encoding":{
  "x":{"field":"x","type":"quantitative","scale":{"domain":[-6.45,5.91],"nice":false,"zero":false}},
  "y":{"field":"y","type":"quantitative","scale":{"domain":[0.4,4.6],"nice":false,"zero":false}},
  "color":{"condition":{"test":"datum.x<0","value":"#1B9E77"},"value":"#D95F02"}}},
{"data":{"name":"core"},"mark":{"type":"circle","size":90,"opacity":1},
 "encoding":{
  "x":{"field":"x","type":"quantitative","scale":{"domain":[-6.45,5.91],"nice":false,"zero":false}},
  "y":{"field":"y","type":"quantitative","scale":{"domain":[0.4,4.6],"nice":false,"zero":false}},
  "color":{"condition":{"test":"datum.x<0","value":"#1B9E77"},"value":"#D95F02"}}},
{"data":{"name":"lab"},"transform":[{"filter":"length(datum.t)==4"}],
 "mark":{"type":"point","filled":true,"opacity":1,"strokeWidth":0,"size":2372,"shape":"M-0.877,-0.46L0.877,-0.46Q1,-0.46 1,-0.337L1,0.337Q1,0.46 0.877,0.46L-0.877,0.46Q-1,0.46 -1,0.337L-1,-0.337Q-1,-0.46 -0.877,-0.46Z"},
 "encoding":{
  "x":{"field":"x","type":"quantitative","scale":{"domain":[-6.45,5.91],"nice":false,"zero":false}},
  "y":{"field":"y","type":"quantitative","scale":{"domain":[0.4,4.6],"nice":false,"zero":false}},
  "color":{"condition":{"test":"datum.x<0","value":"#1B9E77"},"value":"#D95F02"}}},
{"data":{"name":"lab"},"transform":[{"filter":"length(datum.t)==3"}],
 "mark":{"type":"point","filled":true,"opacity":1,"strokeWidth":0,"size":1552,"shape":"M-0.848,-0.569L0.848,-0.569Q1,-0.569 1,-0.417L1,0.417Q1,0.569 0.848,0.569L-0.848,0.569Q-1,0.569 -1,0.417L-1,-0.417Q-1,-0.569 -0.848,-0.569Z"},
 "encoding":{
  "x":{"field":"x","type":"quantitative","scale":{"domain":[-6.45,5.91],"nice":false,"zero":false}},
  "y":{"field":"y","type":"quantitative","scale":{"domain":[0.4,4.6],"nice":false,"zero":false}},
  "color":{"condition":{"test":"datum.x<0","value":"#1B9E77"},"value":"#D95F02"}}},
{"data":{"name":"lab"},"transform":[{"filter":"length(datum.t)==2"}],
 "mark":{"type":"point","filled":true,"opacity":1,"strokeWidth":0,"size":858,"shape":"M-0.795,-0.765L0.795,-0.765Q1,-0.765 1,-0.56L1,0.56Q1,0.765 0.795,0.765L-0.795,0.765Q-1,0.765 -1,0.56L-1,-0.56Q-1,-0.765 -0.795,-0.765Z"},
 "encoding":{
  "x":{"field":"x","type":"quantitative","scale":{"domain":[-6.45,5.91],"nice":false,"zero":false}},
  "y":{"field":"y","type":"quantitative","scale":{"domain":[0.4,4.6],"nice":false,"zero":false}},
  "color":{"condition":{"test":"datum.x<0","value":"#1B9E77"},"value":"#D95F02"}}},
{"data":{"name":"lab"},
 "mark":{"type":"text","color":"#FFFFFF","fontSize":16.5,"font":"Liberation Sans","align":"center","baseline":"middle","dy":1},
 "encoding":{
  "x":{"field":"x","type":"quantitative","scale":{"domain":[-6.45,5.91],"nice":false,"zero":false}},
  "y":{"field":"y","type":"quantitative","scale":{"domain":[0.4,4.6],"nice":false,"zero":false}},
  "text":{"field":"t"}}}
]
}
